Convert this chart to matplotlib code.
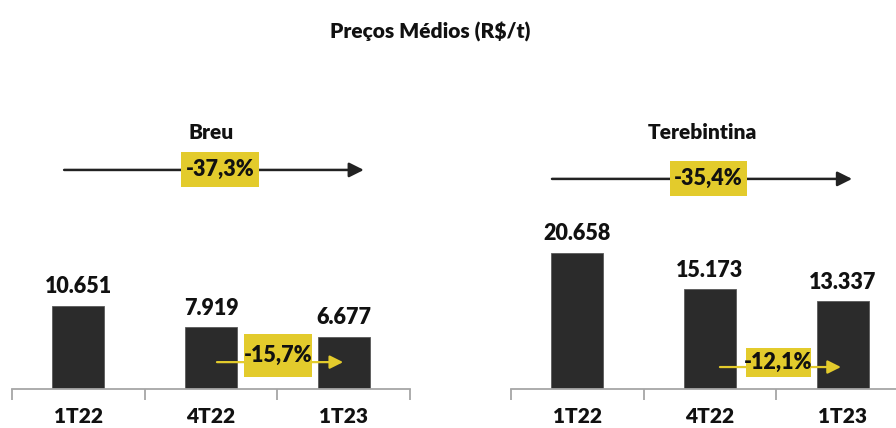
import matplotlib
matplotlib.use("Agg")
import matplotlib.pyplot as plt
from matplotlib.patches import Rectangle

plt.rcParams['font.family'] = ['Lato', 'DejaVu Sans']

# Data
categories = ["1T22", "4T22", "1T23"]
breu_values = [10651, 7919, 6677]
tereb_values = [20658, 15173, 13337]
breu_total_change = "-37,3%"
breu_qoq_change = "-15,7%"
tereb_total_change = "-35,4%"
tereb_qoq_change = "-12,1%"

BAR = "#2b2b2b"
YELLOW = "#e3cb2c"
AXIS = "#a6a6a6"
TXT = "#111111"
WEIGHT = "heavy"

W, H = 896, 428
fig = plt.figure(figsize=(W / 100, H / 100), dpi=100)
fig.patch.set_facecolor("white")


def px_axes(x0, y_base, width, height):
    return fig.add_axes([x0 / W, (H - y_base) / H, width / W, height / H])


def fmt(v):
    return f"{v:,}".replace(",", ".")


def panel(ax, values, ymax, title, title_x, big, small, big_cfg, small_cfg):
    x = range(len(values))
    ax.bar(x, values, width=0.39, color=BAR, edgecolor="#5a5a5a", linewidth=0.6, zorder=2)
    ax.set_xlim(-0.5, 2.5)
    ax.set_ylim(0, ymax)
    for s in ("left", "right", "top"):
        ax.spines[s].set_visible(False)
    ax.spines["bottom"].set_color(AXIS)
    ax.spines["bottom"].set_linewidth(1.3)
    ax.set_yticks([])
    ax.set_xticks(list(x))
    ax.set_xticklabels(categories, fontsize=15, fontweight=WEIGHT, color=TXT)
    ax.tick_params(axis="x", length=0, pad=13)
    ax.set_xticks([-0.5, 0.5, 1.5, 2.5], minor=True)
    ax.tick_params(axis="x", which="minor", length=8, width=1.3, color=AXIS, direction="out")
    ax.patch.set_alpha(0)

    for xi, v in zip(x, values):
        ax.annotate(fmt(v), (xi, v), xytext=(0, 6), textcoords="offset points",
                    ha="center", va="bottom", fontsize=15.5, fontweight=WEIGHT, color=TXT)

    ax.text(title_x, 0.886, title, transform=ax.transAxes,
            ha="center", va="center", fontsize=15, fontweight=WEIGHT, color=TXT)

    # overall change arrow
    x1, x2, y, bx, by, bw, bh = big_cfg
    ax.annotate("", xy=(x2, y), xytext=(x1, y), xycoords="axes fraction",
                arrowprops=dict(arrowstyle="-|>", color="#222222", lw=1.8,
                                mutation_scale=22, shrinkA=0, shrinkB=0))
    ax.add_patch(Rectangle((bx - bw / 2, by - bh / 2), bw, bh, transform=ax.transAxes,
                           facecolor=YELLOW, edgecolor="none", zorder=3, clip_on=False))
    ax.text(bx, by, big, transform=ax.transAxes, ha="center", va="center",
            fontsize=15.5, fontweight=WEIGHT, color=TXT, zorder=4)

    # quarter-on-quarter arrow
    x1, x2, y, bx, by, bw, bh = small_cfg
    ax.annotate("", xy=(x2, y), xytext=(x1, y), xycoords="axes fraction",
                arrowprops=dict(arrowstyle="-|>", color=YELLOW, lw=1.6,
                                mutation_scale=20, shrinkA=0, shrinkB=0), zorder=3)
    ax.add_patch(Rectangle((bx - bw / 2, by - bh / 2), bw, bh, transform=ax.transAxes,
                           facecolor=YELLOW, edgecolor="none", zorder=4, clip_on=False))
    ax.text(bx, by, small, transform=ax.transAxes, ha="center", va="center",
            fontsize=15.5, fontweight=WEIGHT, color=TXT, zorder=5)


ax1 = px_axes(12, 389, 398, 289)
panel(ax1, breu_values, 289 / 0.00783, "Breu", 0.5, breu_total_change, breu_qoq_change,
      (0.131, 0.884, 0.758, 0.523, 0.759, 0.196, 0.121),
      (0.515, 0.832, 0.093, 0.668, 0.116, 0.171, 0.149))

ax2 = px_axes(511, 389, 398, 289)
panel(ax2, tereb_values, 289 / 0.00660, "Terebintina", 0.482, tereb_total_change, tereb_qoq_change,
      (0.103, 0.857, 0.727, 0.496, 0.728, 0.193, 0.121),
      (0.525, 0.829, 0.076, 0.672, 0.092, 0.163, 0.100))

fig.text(430 / W, 1 - 32 / H, "Preços Médios (R$/t)", ha="center", va="center",
         fontsize=15, fontweight=WEIGHT, color=TXT)

fig.savefig("out.png", dpi=100, facecolor="white")
